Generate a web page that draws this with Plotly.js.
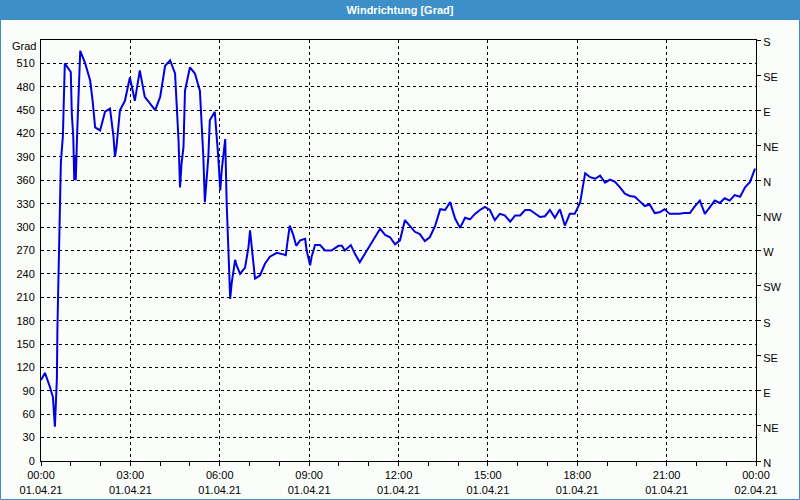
<!DOCTYPE html>
<html>
<head>
<meta charset="utf-8">
<script src="https://cdn.plot.ly/plotly-3.0.1.min.js"></script>
<style>
html,body{margin:0;padding:0;background:#fbfdfb;}
#chart{width:800px;height:500px;}
</style>
</head>
<body>
<div id="chart"></div>
<script>
// minutes after 01.04.21 00:00
const minutes = [0,8,18,24,28,32,33,35,36,38,40,44,45,46,48,60,62,65,67,69,70,73,75,79,89,99,104,109,119,129,139,146,149,152,159,169,179,189,199,209,230,240,250,260,270,275,277,280,283,287,290,300,310,320,325,327,330,334,337,340,350,357,361,364,367,371,374,377,381,384,391,394,401,411,418,421,424,431,441,451,461,475,488,493,496,501,508,514,522,532,535,542,545,552,562,572,585,599,606,612,624,632,642,656,669,676,683,693,703,713,723,733,743,753,763,773,783,794,804,814,824,834,844,854,864,874,884,894,904,914,924,934,945,955,965,975,985,995,1005,1015,1025,1035,1045,1055,1065,1075,1086,1091,1096,1106,1116,1126,1136,1146,1156,1166,1176,1186,1196,1206,1216,1226,1236,1246,1256,1266,1276,1286,1296,1307,1317,1327,1337,1347,1357,1367,1377,1387,1397,1408,1418,1428,1438];
const grad = [104,113,95,82,44,106,168,228,292,354,383,416,446,475,510,499,446,416,360,392,360,424,460,526,510,488,462,428,424,448,452,416,390,403,450,462,492,462,501,467,450,467,507,514,497,441,411,351,381,403,475,505,497,475,420,390,332,360,390,437,448,390,347,373,390,413,330,287,208,228,258,251,240,248,275,296,275,234,238,253,262,267,265,264,279,302,290,276,283,285,270,251,262,277,277,270,270,276,276,270,277,266,255,270,283,290,298,290,287,278,283,309,302,294,291,282,287,302,323,322,332,311,299,312,310,317,322,326,322,309,317,315,307,315,315,322,322,318,313,314,322,312,323,302,317,317,332,351,369,364,362,366,357,361,358,351,343,340,339,333,327,329,318,319,323,317,317,317,318,318,327,334,317,325,334,331,337,334,341,339,351,358,375];
const leftTicks = [0,30,60,90,120,150,180,210,240,270,300,330,360,390,420,450,480,510];
const rightTicks = [0,45,90,135,180,225,270,315,360,405,450,495,540];
const rightLabels = ['N','NE','E','SE','S','SW','W','NW','N','NE','E','SE','S'];

function pad(n){return (n<10?'0':'')+n;}
const times = minutes.map(m => '2021-04-01 ' + pad(Math.floor(m/60)) + ':' + pad(m%60));

const FONT = 'Liberation Sans, Arial, sans-serif';
const W = 715, H = 421, L = 41, T = 40;

const data = [{
  x: times, y: grad, type: 'scatter', mode: 'lines',
  line: {color: '#0000e0', width: 2}, hoverinfo: 'skip', showlegend: false
}, {
  x: [times[0]], y: [0], yaxis: 'y2', type: 'scatter', mode: 'markers',
  marker: {opacity: 0}, hoverinfo: 'skip', showlegend: false
}];

const layout = {
  width: 800, height: 500,
  margin: {l: L, r: 800 - L - W, t: T, b: 500 - T - H, pad: 0},
  paper_bgcolor: '#fbfdfb', plot_bgcolor: '#fbfdfb',
  font: {family: FONT, size: 11, color: '#000'},
  title: {text: '<b>Windrichtung [Grad]</b>', font: {family: FONT, size: 11, color: '#ffffff'},
          xref: 'container', x: 0.5, xanchor: 'center', yref: 'container', y: 1 - 10/500, yanchor: 'middle'},
  xaxis: {
    type: 'date', range: ['2021-04-01 00:00', '2021-04-02 00:00'],
    tick0: '2021-04-01 00:00', dtick: 3*3600000, tickformat: '%H:%M<br>%d.%m.%y',
    showgrid: true, gridcolor: '#000', gridwidth: 1, griddash: '3px,3px',
    showline: true, linecolor: '#000', linewidth: 1, mirror: true,
    ticks: 'outside', ticklen: 4, tickcolor: '#000', zeroline: false,
    tickfont: {family: FONT, size: 11, color: '#000'},
    minor: {dtick: 3600000, ticks: 'outside', ticklen: 4, tickcolor: '#000', showgrid: false},
    fixedrange: true
  },
  yaxis: {
    range: [0, 540], tickvals: leftTicks, ticktext: leftTicks.map(String),
    showgrid: true, gridcolor: '#000', gridwidth: 1, griddash: '3px,3px',
    showline: true, linecolor: '#000', linewidth: 1, zeroline: false,
    ticks: 'outside', ticklen: 3, tickcolor: 'rgba(0,0,0,0)',
    tickfont: {family: FONT, size: 11, color: '#000'}, fixedrange: true
  },
  yaxis2: {
    overlaying: 'y', side: 'right', range: [0, 540],
    tickvals: rightTicks, ticktext: rightLabels,
    showgrid: false, showline: true, linecolor: '#000', linewidth: 1, zeroline: false,
    ticks: 'outside', ticklen: 4, tickcolor: '#000', ticklabelshift: 2,
    tickfont: {family: FONT, size: 11, color: '#000'}, fixedrange: true
  },
  shapes: [
    {type: 'rect', xref: 'paper', yref: 'paper', layer: 'below',
     x0: -L/W, x1: (800 - L)/W, y0: 1 + (T - 20)/H, y1: 1 + T/H,
     fillcolor: '#3d8fc7', line: {width: 0}},
    {type: 'rect', xref: 'paper', yref: 'paper', layer: 'above',
     x0: (0.5 - L)/W, x1: (799.5 - L)/W, y0: -(500 - T - H - 0.5)/H, y1: 1 + T/H,
     fillcolor: 'rgba(0,0,0,0)', line: {width: 1, color: '#3d8fc7'}}
  ],
  annotations: [
    {text: 'Grad', xref: 'paper', yref: 'paper', x: 0, y: 1, xanchor: 'right', yanchor: 'middle',
     xshift: -3, yshift: -6, showarrow: false, font: {family: FONT, size: 11, color: '#000'}}
  ]
};

Plotly.newPlot('chart', data, layout, {displayModeBar: false, staticPlot: true});
</script>
</body>
</html>
